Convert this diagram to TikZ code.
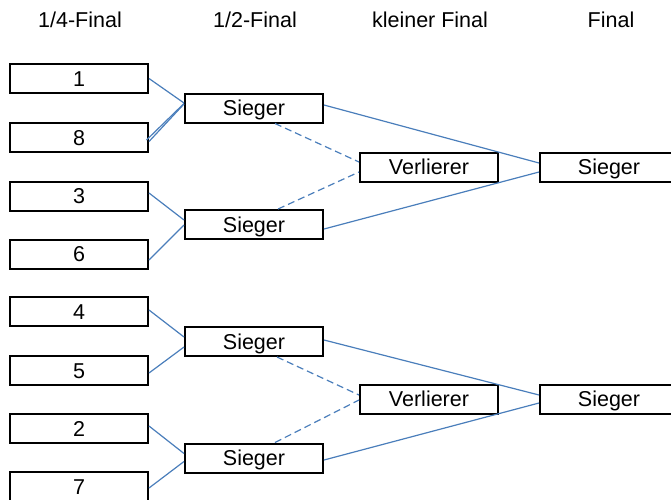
\documentclass[tikz,border=0pt]{standalone}
\usepackage{fontspec}
\setmainfont{Liberation Sans}
\definecolor{linkblue}{HTML}{4A7EBB}
\begin{document}
\begin{tikzpicture}[x=1pt,y=-1pt,
  box/.style={draw=black,line width=2pt,fill=white,minimum width=138pt,minimum height=29pt,inner sep=0pt,
    text height=15.4pt,text depth=0pt,font=\fontsize{21.5}{26}\selectfont},
  head/.style={anchor=base,inner sep=0pt,font=\fontsize{21.5}{26}\selectfont},
  link/.style={draw=linkblue,line width=1.2pt},
  lose/.style={draw=linkblue,line width=1.2pt,dash pattern=on 7pt off 4pt}]
\useasboundingbox (0,0) rectangle (671,499);
% headers
\node[head] (h1) at (80,27) {1/4-Final};
\node[head] (h2) at (255,27) {1/2-Final};
\node[head] (h3) at (430,27) {kleiner Final};
\node[head] (h4) at (611,27) {Final};
% quarter-final boxes
\node[box] (b1) at (79,78.5) {1};
\node[box] (b8) at (79,137.5) {8};
\node[box] (b3) at (79,196) {3};
\node[box] (b6) at (79,254) {6};
\node[box] (b4) at (79,311.5) {4};
\node[box] (b5) at (79,370.5) {5};
\node[box] (b2) at (79,428.5) {2};
\node[box] (b7) at (79,486.5) {7};
% semi-final boxes
\node[box] (s1) at (254,108) {Sieger};
\node[box] (s2) at (254,224.5) {Sieger};
\node[box] (s3) at (254,341.5) {Sieger};
\node[box] (s4) at (254,458) {Sieger};
% small final
\node[box] (v1) at (429,167) {Verlierer};
\node[box] (v2) at (429,399) {Verlierer};
% final
\node[box] (f1) at (609,167) {Sieger};
\node[box] (f2) at (609,399) {Sieger};
% quarter -> semi
\draw[link] (b1.east) -- ([yshift=5pt]s1.west);
\draw[link] ([yshift=-4pt]b8.east) -- ([yshift=4pt]s1.west);
\draw[link] ([xshift=-2.5pt,yshift=-2.5pt]b8.east) -- ([yshift=4.5pt]s1.west);
\draw[link] ([yshift=3pt]b3.east) -- ([yshift=4.5pt]s2.west);
\draw[link] ([yshift=-6pt]b6.east) -- ([yshift=-0.5pt]s2.west);
\draw[link] ([yshift=1.5pt]b4.east) -- ([yshift=4.5pt]s3.west);
\draw[link] ([yshift=-2.5pt]b5.east) -- ([yshift=-5.5pt]s3.west);
\draw[link] ([yshift=2.5pt]b2.east) -- ([yshift=4.5pt]s4.west);
\draw[link] ([yshift=-1.5pt]b7.east) -- ([yshift=-3.5pt]s4.west);
% semi -> final
\draw[link] ([yshift=3pt]s1.east) -- ([yshift=4pt]f1.west);
\draw[link] ([yshift=-4.5pt]s2.east) -- ([yshift=-5pt]f1.west);
\draw[link] ([yshift=1.5pt]s3.east) -- ([yshift=4pt]f2.west);
\draw[link] ([yshift=-2pt]s4.east) -- ([yshift=-4pt]f2.west);
% semi -> small final (losers)
\draw[lose] ([xshift=21pt]s1.south) -- ([yshift=5pt]v1.west);
\draw[lose] ([xshift=24pt]s2.north) -- ([yshift=-5pt]v1.west);
\draw[lose] ([xshift=23pt]s3.south) -- ([yshift=4pt]v2.west);
\draw[lose] ([xshift=21pt]s4.north) -- ([yshift=-1pt]v2.west);
\end{tikzpicture}
\end{document}
